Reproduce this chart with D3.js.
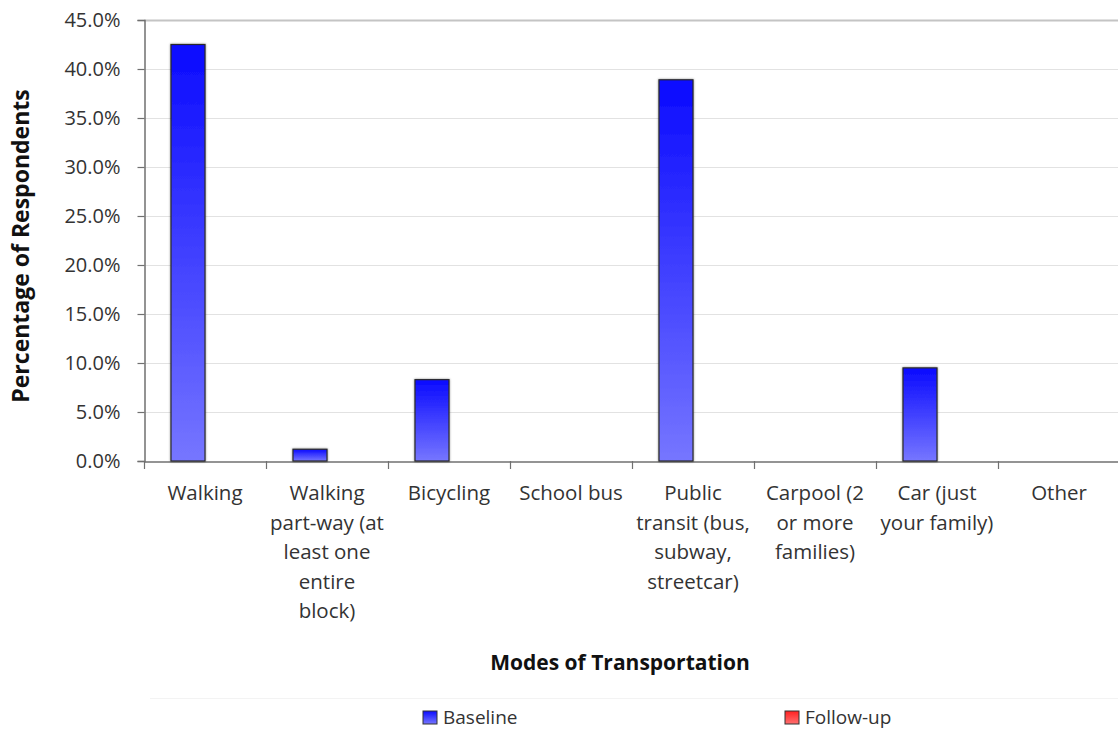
<!DOCTYPE html>
<html>
<head>
<meta charset="utf-8">
<script src="https://cdn.jsdelivr.net/npm/d3@7"></script>
<style>
  html, body { margin: 0; padding: 0; background: #fff; }
  svg { display: block; font-family: "Open Sans", sans-serif; }
</style>
</head>
<body>
<svg id="chart" width="1118" height="729"></svg>
<script>
// ---- data ----
const categories = [
  "Walking",
  "Walking\npart-way (at\nleast one\nentire\nblock)",
  "Bicycling",
  "School bus",
  "Public\ntransit (bus,\nsubway,\nstreetcar)",
  "Carpool (2\nor more\nfamilies)",
  "Car (just\nyour family)",
  "Other"
];
const seriesNames = ["Baseline", "Follow-up"];
const baselineValues = [42.5, 1.2, 8.3, 0, 38.9, 0, 9.5, 0];
const followUpValues = [0, 0, 0, 0, 0, 0, 0, 0];
const yTickValues = [0, 5, 10, 15, 20, 25, 30, 35, 40, 45];
const yAxisTitle = "Percentage of Respondents";
const xAxisTitle = "Modes of Transportation";

// ---- layout ----
const svg = d3.select("#chart");
const plotL = 144, plotR = 1120, plotT = 20, plotB = 461;

const x0 = d3.scaleBand().domain(d3.range(categories.length)).range([plotL, plotR]).padding(0);
const x1 = d3.scaleBand().domain(seriesNames).range([0, x0.bandwidth()]).paddingInner(0).paddingOuter(0.794);
const y = d3.scaleLinear().domain([0, 45]).range([plotB, plotT]);

const defs = svg.append("defs");
const gBlue = defs.append("linearGradient").attr("id", "gradBlue").attr("x1", 0).attr("y1", 0).attr("x2", 0).attr("y2", 1);
gBlue.append("stop").attr("offset", "0%").attr("stop-color", "#0a0aff");
gBlue.append("stop").attr("offset", "100%").attr("stop-color", "#7676ff");
const gRed = defs.append("linearGradient").attr("id", "gradRed").attr("x1", 0).attr("y1", 0).attr("x2", 0).attr("y2", 1);
gRed.append("stop").attr("offset", "0%").attr("stop-color", "#ff2020");
gRed.append("stop").attr("offset", "100%").attr("stop-color", "#ff7070");
const shadow = defs.append("filter").attr("id", "shadow").attr("x", "-20%").attr("y", "-20%").attr("width", "140%").attr("height", "140%");
shadow.append("feDropShadow").attr("dx", 0).attr("dy", 0).attr("stdDeviation", 1.2).attr("flood-color", "#000").attr("flood-opacity", 0.45);

// gridlines
svg.append("g").selectAll("line").data(yTickValues.filter(d => d > 0)).join("line")
  .attr("x1", plotL).attr("x2", plotR)
  .attr("y1", d => y(d) + 0.5).attr("y2", d => y(d) + 0.5)
  .attr("stroke", d => d === 45 ? "#c4c4c4" : "#e2e2e2")
  .attr("stroke-width", d => d === 45 ? 2 : 1.2);

// y axis
const yAxis = d3.axisLeft(y).tickValues(yTickValues).tickSize(7).tickPadding(17)
  .tickFormat(d => d.toFixed(1) + "%");
const gy = svg.append("g").attr("transform", `translate(${plotL + 0.5},0)`).call(yAxis);
gy.select(".domain").attr("stroke", "#707070").attr("stroke-width", 1.5);
gy.selectAll(".tick line").attr("stroke", "#707070").attr("stroke-width", 1.2);
gy.selectAll(".tick text").attr("font-size", 20).attr("fill", "#333").attr("font-family", "Open Sans");

// x axis
const xAxis = d3.axisBottom(x0).tickSize(0).tickFormat("");
const gx = svg.append("g").attr("transform", `translate(0,${plotB + 0.5})`).call(xAxis);
gx.select(".domain").attr("stroke", "#707070").attr("stroke-width", 1.5);
// category separator ticks
svg.append("g").selectAll("line").data(d3.range(categories.length + 1)).join("line")
  .attr("x1", i => (i < categories.length ? x0(i) : plotR) + 0.5)
  .attr("x2", i => (i < categories.length ? x0(i) : plotR) + 0.5)
  .attr("y1", plotB).attr("y2", plotB + 8)
  .attr("stroke", "#707070").attr("stroke-width", 1.2);

// category labels
const lbl = svg.append("g").selectAll("text").data(categories).join("text")
  .attr("text-anchor", "middle")
  .attr("font-size", 20.5).attr("fill", "#333")
  .attr("transform", (d, i) => `translate(${x0(i) + x0.bandwidth() / 2},${500})`);
lbl.each(function(d) {
  const t = d3.select(this);
  d.split("\n").forEach((line, k) => {
    t.append("tspan").attr("x", 0).attr("y", k * 29.5).text(line);
  });
});

// bars
const series = [
  { name: seriesNames[0], values: baselineValues, fill: "url(#gradBlue)" },
  { name: seriesNames[1], values: followUpValues, fill: "url(#gradRed)" }
];
series.forEach(s => {
  svg.append("g").selectAll("rect").data(s.values.map((v, i) => ({ v, i })).filter(d => d.v > 0)).join("rect")
    .attr("x", d => x0(d.i) + x1(s.name))
    .attr("y", d => y(d.v))
    .attr("width", x1.bandwidth())
    .attr("height", d => y(0) - y(d.v))
    .attr("fill", s.fill)
    .attr("stroke", "#2a2a2a").attr("stroke-width", 1.2)
    .attr("filter", "url(#shadow)");
});

// axis titles
svg.append("text")
  .attr("transform", `translate(29,${246}) rotate(-90)`)
  .attr("text-anchor", "middle").attr("font-size", 23).attr("font-weight", "bold").attr("fill", "#111")
  .text(yAxisTitle);
svg.append("text")
  .attr("x", 620).attr("y", 670)
  .attr("text-anchor", "middle").attr("font-size", 21).attr("font-weight", "bold").attr("fill", "#111")
  .text(xAxisTitle);

// legend
svg.append("line").attr("x1", 150).attr("x2", 1118).attr("y1", 698.5).attr("y2", 698.5)
  .attr("stroke", "#f3f3f3").attr("stroke-width", 1);
const legendX = [423, 785];
const legend = svg.append("g").selectAll("g").data(series).join("g")
  .attr("transform", (d, i) => `translate(${legendX[i]},711)`);
legend.append("rect").attr("width", 14).attr("height", 13)
  .attr("fill", d => d.fill).attr("stroke", "#333").attr("stroke-width", 1);
legend.append("text").attr("x", 20).attr("y", 13).attr("font-size", 19).attr("fill", "#333")
  .text(d => d.name);
</script>
</body>
</html>
